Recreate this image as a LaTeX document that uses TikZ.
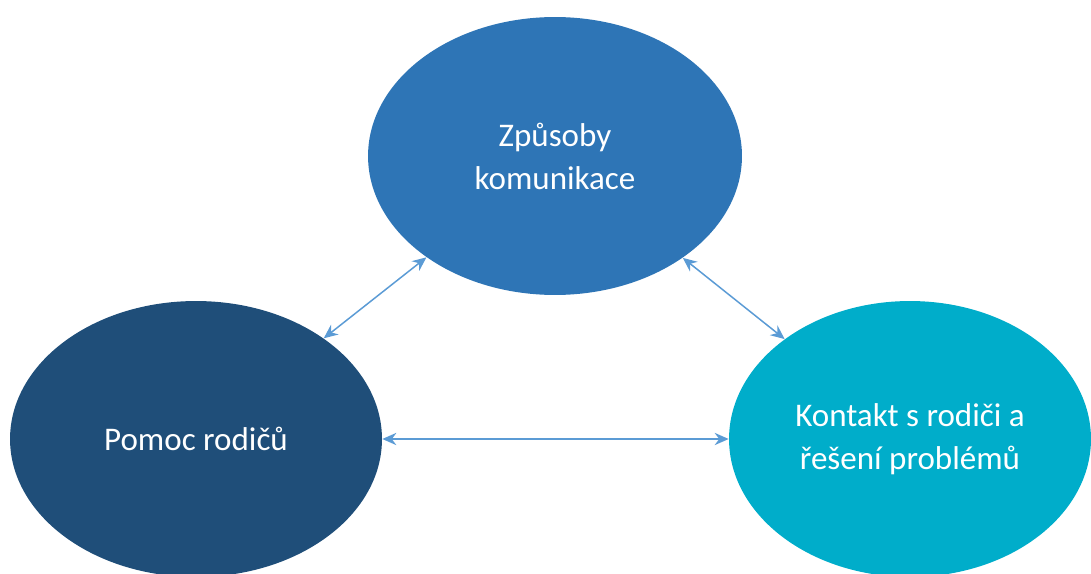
\documentclass[tikz,border=0pt]{standalone}
\usepackage{fontspec}
\setmainfont{Carlito}
\usetikzlibrary{shapes.geometric, arrows.meta}

\definecolor{topblue}{HTML}{2E75B6}
\definecolor{darkblue}{HTML}{1F4E79}
\definecolor{tealblue}{HTML}{00ADCA}
\definecolor{linkblue}{HTML}{5B9BD5}

\begin{document}
\begin{tikzpicture}[x=0.02cm, y=-0.02cm,
  topic/.style={shape=ellipse, fill=#1, text=white, align=center, inner sep=0pt,
    font=\fontsize{18.8}{24.5}\selectfont},
  link/.style={draw=linkblue, line width=0.85pt,
    {Stealth[length=8pt,width=7pt]}-{Stealth[length=8pt,width=7pt]}}]
\useasboundingbox (0,0) rectangle (1091,574);
\clip (0,0) rectangle (1091,574);
\node[topic=topblue, minimum width=7.48cm, minimum height=5.56cm] (ways) at (555,156) {Způsoby\\ komunikace};
\node[topic=darkblue, minimum width=7.44cm, minimum height=5.52cm] (help) at (196,439) {Pomoc rodičů};
\node[topic=tealblue, minimum width=7.24cm, minimum height=5.52cm] (contact) at (910,439) {Kontakt s rodiči a\\ řešení problémů};
\draw[link] (ways) -- (help);
\draw[link] (ways) -- (contact);
\draw[link] (help) -- (contact);
\end{tikzpicture}
\end{document}
